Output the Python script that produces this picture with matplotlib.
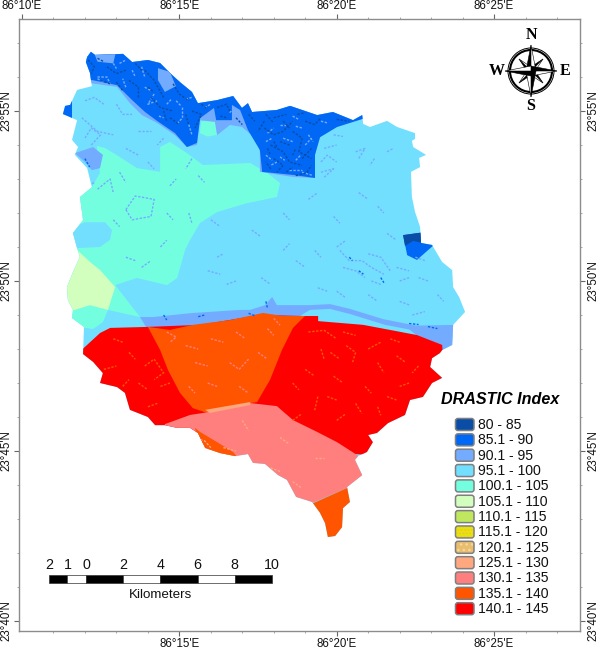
import matplotlib
matplotlib.use('Agg')
import numpy as np
import matplotlib.pyplot as plt
from matplotlib.patches import Polygon, FancyBboxPatch, Rectangle, Circle
from matplotlib.collections import LineCollection
from matplotlib.ticker import MultipleLocator, FixedLocator, FuncFormatter

plt.rcParams['font.family'] = ['Liberation Sans', 'DejaVu Sans']

# all map coordinates: arc minutes east of 86 10'E, arc minutes north of 23 40'N
outline = [(2.07,16.59),(2.19,16.74),(2.32,16.65),(3.21,16.68),(3.50,16.44),(4.00,16.50),(4.39,16.41),
    (4.70,16.12),(5.02,15.85),(5.40,15.56),(5.59,15.23),(6.20,15.32),(6.71,15.44),(6.99,15.09),(7.18,15.23),
    (7.31,14.97),(8.10,15.03),(8.52,15.15),(9.38,14.88),(9.88,14.97),(10.52,14.73),(10.81,14.88),(10.84,14.62),
    (11.06,14.53),(11.60,14.71),(11.92,14.53),(12.49,14.35),(12.49,14.18),(12.39,14.12),(12.43,13.94),
    (12.84,13.71),(12.62,13.62),(12.65,13.35),(12.36,13.21),(12.39,12.47),(12.49,12.03),(12.65,11.59),
    (12.68,11.12),(13.03,11.06),(13.35,10.56),(13.67,10.32),(13.70,9.82),(13.89,9.53),(14.08,9.09),(13.70,8.71),
    (13.67,8.12),(13.35,7.97),(13.28,7.88),(13.03,7.73),(12.97,7.47),(13.35,7.15),(13.03,7.00),(12.74,6.59),
    (12.33,6.50),(12.17,6.06),(11.63,5.82),(11.28,5.53),(11.00,5.47),(11.15,5.26),(10.96,4.97),(10.68,4.85),
    (10.58,4.74),(10.81,4.29),(10.33,3.94),(10.42,3.50),(10.20,3.32),(10.17,2.76),(9.95,2.50),(9.72,2.47),
    (9.63,2.88),(9.47,3.18),(9.22,3.50),(8.71,3.65),(8.42,4.15),(8.14,4.29),(7.72,4.62),(7.34,4.65),(7.18,4.91),
    (6.77,4.85),(6.29,4.94),(5.82,5.09),(5.59,5.53),(5.34,5.68),(4.93,5.68),(4.54,5.76),(4.23,5.76),(4.00,6.00),
    (3.43,6.21),(3.27,6.71),(3.02,6.88),(2.48,7.00),(2.57,7.29),(2.26,7.62),(1.94,7.85),(1.97,8.65),(1.59,8.91),
    (1.62,9.15),(1.46,9.44),(1.43,9.82),(1.62,10.26),(1.84,10.71),(1.75,10.97),(1.62,11.41),(1.94,11.79),
    (1.84,12.47),(2.22,12.76),(2.07,13.32),(1.68,13.71),(1.78,13.94),(1.59,14.15),(1.75,14.73),(1.53,14.82),
    (1.30,14.91),(1.37,15.15),(1.53,15.18),(1.75,15.62),(2.22,15.73),(2.16,16.12),(2.03,16.44)]

zone_100_105 = [(2.38,13.97),(2.64,13.91),(3.05,13.68),(3.65,13.32),(4.39,13.21),(4.39,13.94),(4.70,14.09),
    (5.24,13.76),(5.75,13.41),(7.25,13.47),(7.79,13.18),(8.20,12.88),(8.10,12.47),(7.15,12.29),(6.20,12.03),
    (5.66,11.71),(5.34,11.21),(5.18,10.91),(4.93,10.09),(4.61,9.88),(3.65,10.09),(2.96,9.88),(3.75,8.94),
    (2.73,9.15),(2.57,8.79),(2.26,8.59),(1.53,8.68),(1.21,8.85),(1.21,12.38),(1.84,12.68),(2.22,12.76),(2.48,13.18)]
zone_100_105_notch = [(5.70,14.70),(6.15,14.70),(6.20,14.30),(5.90,14.25),(5.65,14.35)]
zone_95_100_west = [(1.21,11.41),(2.00,11.73),(2.64,11.73),(2.86,11.50),(2.80,11.21),(2.48,11.00),(1.84,10.97),(1.21,10.97)]
zone_105_110 = [(1.21,11.06),(1.75,10.91),(2.16,10.56),(2.48,10.32),(2.96,9.82),(2.86,9.53),(2.73,9.15),(2.16,9.29),
    (1.68,9.15),(1.21,9.15)]
zone_90_95_band = [(3.75,8.94),(4.16,8.94),(5.43,9.06),(6.93,9.15),(7.25,9.15),(7.72,9.29),(7.95,9.53),(8.10,9.29),
    (9.15,9.29),(9.79,9.32),(10.42,9.18),(11.47,8.88),(12.55,8.68),(13.44,8.62),(13.44,8.53),(12.55,8.53),
    (11.54,8.71),(10.42,9.03),(9.79,9.18),(9.15,9.15),(8.83,8.97),(7.56,8.91),(5.66,8.56),(4.00,8.56)]
zone_90_95_east = [(12.17,8.68),(13.76,8.71),(13.76,8.03),(13.28,7.91),(12.65,8.32)]
zone_90_95_west = [(1.68,13.76),(2.26,13.94),(2.57,13.71),(2.48,13.32),(2.22,13.26),(2.00,13.50)]
zone_90_95_north = [(2.03,15.79),(2.16,15.82),(3.02,15.71),(3.43,15.23),(3.81,14.88),(4.29,14.65),(4.86,14.29),
    (5.24,13.94),(5.56,14.00),(5.66,14.73),(6.13,14.68),(6.20,14.29),(6.61,14.59),(6.99,14.53),(7.47,14.15),
    (7.56,13.79),(7.56,13.21),(8.61,13.06),(9.31,13.03),(9.31,13.71),(9.47,14.23),(10.01,14.53),(10.90,14.79),
    (10.90,16.79),(1.84,16.79)]
zone_85_90_north = [(1.84,16.79),(10.90,16.79),(10.90,14.79),(10.01,14.53),(9.47,14.23),(9.31,13.71),(9.31,13.03),
    (8.61,13.12),(7.63,13.21),(7.56,13.85),(7.18,14.44),(6.93,15.03),(6.67,15.18),(6.67,14.73),(6.17,14.73),
    (6.10,15.09),(5.66,14.79),(5.56,14.06),(5.24,13.94),(4.86,14.35),(4.29,14.71),(3.91,14.97),(3.50,15.32),
    (3.02,15.76),(2.22,15.91),(1.84,15.79)]
zone_90_95_ridge = [(4.32,16.26),(4.70,16.15),(4.89,15.73),(4.54,15.56),(4.32,15.91)]
zone_90_95_top = [(2.25,16.8),(3.0,16.8),(2.9,16.4),(2.4,16.45)]
zone_85_90_east = [(12.11,11.35),(12.81,11.44),(13.09,11.06),(12.55,10.62),(12.24,10.76)]
zone_80_85_east = [(12.11,11.35),(12.81,11.44),(12.71,11.12),(12.43,11.18),(12.17,11.03)]
zone_85_90_west = [(1.2,15.3),(1.6,15.3),(1.6,14.75),(1.2,14.75)]
zone_140_145 = [(1.68,7.79),(2.48,8.47),(2.80,8.62),(4.00,8.65),(5.66,8.71),(7.56,9.00),(8.99,8.97),(9.41,8.97),
    (9.41,8.82),(10.84,8.71),(11.70,8.56),(12.55,8.41),(13.35,8.12),(13.44,7.09),(13.28,4.74),(4.07,5.32),(1.68,5.32)]
zone_135_140 = [(4.00,8.65),(4.70,8.56),(5.43,8.71),(6.61,8.85),(7.66,9.06),(8.29,8.97),(8.99,8.97),(8.61,8.62),
    (8.26,7.97),(7.88,7.09),(7.47,6.44),(7.25,6.41),(5.88,6.12),(5.43,6.26),(5.02,6.71),(4.64,7.38),(4.39,7.97)]
zone_130_135 = [(4.54,5.79),(5.34,6.06),(5.97,6.15),(7.25,6.41),(8.10,6.32),(8.61,5.91),(9.38,5.56),(10.01,5.26),
    (10.65,4.88),(11.06,4.44),(10.33,3.91),(9.22,3.47),(8.71,3.12),(7.25,3.85),(5.34,5.18),(4.54,5.56)]
zone_125_130 = [(5.82,6.21),(7.25,6.44),(7.25,6.35),(5.97,6.12)]
zone_135_140_tip = [(9.22,3.45),(10.50,3.98),(10.60,2.15),(9.09,2.15)]
zone_135_140_sw = [(5.50,5.68),(5.66,5.56),(6.20,5.26),(6.71,4.97),(6.86,4.79),(5.66,4.79)]

specks_80_85 = [[(2.1,16.5),(2.3,16.3),(2.2,16.1)],[(2.7,16.3),(3.0,16.1),(3.3,16.2)],[(2.5,15.9),(2.8,15.8)],
    [(3.4,15.9),(3.7,15.7),(3.7,15.4)],[(3.9,16.2),(4.2,15.9),(4.5,15.4)],[(4.1,15.4),(4.4,15.1),(4.8,15.0)],
    [(4.8,15.8),(5.0,15.5),(5.3,15.3)],[(4.7,14.8),(5.0,14.6)],[(5.4,15.0),(5.7,14.9),(5.5,14.5)],
    [(6.2,15.1),(6.5,15.2),(6.6,15.0)],[(6.8,14.8),(7.0,14.6)],[(7.7,14.5),(8.0,14.3),(8.3,14.4),(8.6,14.7)],
    [(7.9,14.0),(8.3,13.8),(8.5,13.5),(8.9,13.4)],[(8.6,14.4),(8.9,14.2),(8.8,13.8),(9.2,13.6)],
    [(8.0,13.6),(8.3,13.4),(8.1,13.2)],[(9.0,14.7),(9.3,14.6),(9.5,14.8)],[(10.0,14.75),(10.4,14.7)],
    [(8.0,14.8),(8.4,14.9)],[(7.8,13.9),(7.9,13.7)],[(8.7,13.1),(9.1,13.2)],[(7.7,14.7),(7.5,14.4)],
    [(8.2,14.1),(8.5,14.0)],[(8.9,13.6),(9.2,13.9)],[(7.9,13.3),(7.75,13.5)],
    [(2.4,16.55),(2.6,16.45)],[(3.0,15.85),(3.2,15.6)],[(3.6,16.4),(3.8,16.2)],[(4.0,15.7),(4.2,15.55)],[(4.5,15.0),(4.6,14.7)],
    [(5.2,14.9),(5.3,14.6)],[(5.7,15.2),(5.9,15.05)],[(6.3,14.85),(6.5,14.8)],[(7.2,14.9),(7.4,14.7)],[(7.75,14.9),(8.0,14.65)],
    [(8.3,14.7),(8.5,14.5)],[(8.75,14.9),(9.0,14.95)],[(8.1,13.95),(8.0,14.1)],[(8.6,13.7),(8.7,13.9)],[(8.4,13.2),(8.6,13.35)],
    [(9.05,13.2),(9.2,13.4)]]
specks_90_95 = [[(2.4,16.0),(2.7,16.0),(2.8,15.8)],[(3.1,16.4),(3.3,16.5)],[(3.3,15.7),(3.2,15.95)],[(3.8,16.3),(3.9,16.0)],
    [(4.2,15.5),(4.0,15.2),(4.3,15.3)],[(5.1,15.1),(5.1,14.8),(4.9,14.6)],[(5.3,14.6),(5.4,14.3)],[(5.8,15.1),(6.0,15.2)],
    [(7.75,14.1),(7.95,14.2)],[(8.3,14.2),(8.6,14.1)],[(8.1,13.5),(7.9,13.4)],[(8.5,13.25),(8.9,13.25)],[(9.1,14.3),(9.25,14.1)],
    [(8.9,13.2),(9.25,13.1)],[(9.6,13.9),(10.0,14.0)],[(9.5,13.5),(9.7,13.7),(10.0,13.5)],[(9.5,13.2),(9.9,13.3),(9.6,13.05)],
    [(9.9,14.3),(10.2,14.25)],[(10.6,13.8),(10.9,13.9),(10.7,13.6)],[(11.6,13.8),(11.8,13.9)],[(11.2,13.6),(11.05,13.4)],
    [(2.0,15.3),(2.3,15.4),(2.6,15.2)],[(1.9,14.8),(2.4,14.4),(2.9,14.3)],[(3.0,15.2),(3.2,14.9),(3.5,14.9)],
    [(2.2,14.0),(2.5,14.3),(2.2,14.5),(2.0,14.2)],[(3.7,14.4),(4.1,14.4)],[(4.5,14.2),(4.3,14.0)],[(3.3,13.9),(3.7,13.7)],
    [(4.0,13.5),(4.2,13.3)],[(5.4,13.6),(5.2,13.3)],[(2.4,12.7),(2.8,13.0),(2.9,12.6)],[(1.9,12.7),(2.3,12.9)],
    [(3.3,12.1),(3.6,12.5),(4.2,12.4),(4.1,11.9),(3.5,11.8),(3.3,12.1)],[(4.7,12.8),(4.9,13.0)],[(5.6,13.1),(5.8,12.9)],
    [(3.1,13.2),(3.3,12.9)],[(10.1,10.9),(10.4,10.6),(10.8,10.6),(11.1,10.4),(11.5,10.2)],[(10.2,10.4),(10.6,10.3),(10.9,10.1)],
    [(11.0,10.8),(11.4,10.7),(11.7,10.3)],[(11.1,10.0),(11.4,9.9)],[(11.9,10.4),(12.3,10.3)],[(12.0,10.0),(12.3,10.1)],
    [(12.6,10.1),(12.9,10.0)],[(12.5,10.7),(12.8,10.6)],[(5.3,12.0),(5.4,11.7)],[(6.0,11.8),(6.3,11.6)],[(7.3,11.5),(7.6,11.3)],
    [(8.3,12.0),(8.5,11.8)],[(9.1,12.4),(9.4,12.6)],[(9.9,11.9),(10.1,11.7)],[(10.7,12.6),(11.0,12.4)],[(11.3,12.2),(11.5,12.0)],
    [(10.0,11.0),(10.3,11.2)],[(11.6,11.4),(11.9,11.2)],[(8.7,10.6),(9.0,10.4)],[(9.3,10.9),(9.5,10.7)],[(7.6,10.1),(7.9,9.9)],
    [(5.9,10.3),(6.3,10.2)],[(6.5,9.9),(6.8,10.0)],[(8.3,10.9),(8.5,11.1)],[(9.4,9.8),(9.7,9.7)],[(6.2,10.7),(6.4,10.8)],
    [(12.4,9.0),(12.8,9.1)],[(13.2,9.6),(13.4,9.4)],[(12.0,9.4),(12.3,9.3)],[(11.0,9.6),(11.3,9.4)],[(10.0,9.7),(10.3,9.5)],
    [(4.4,11.0),(4.6,11.2)],[(3.3,10.7),(3.6,10.6)],[(2.9,11.8),(3.1,11.6)],[(4.6,12.0),(4.8,11.8)],[(3.8,10.4),(4.1,10.6)],
    [(2.4,15.95),(2.6,15.85)],[(2.9,16.4),(3.0,16.25)],[(3.5,16.2),(3.6,16.0)],[(3.9,15.7),(4.1,15.6)],[(4.6,15.2),(4.75,15.35)],
    [(4.9,15.3),(5.05,15.15)],[(4.35,14.85),(4.5,14.8)],[(5.2,15.35),(5.4,15.4)],[(6.6,14.95),(6.75,15.1)],[(7.8,14.35),(8.0,14.5)],
    [(8.2,14.6),(8.4,14.6)],[(8.7,14.55),(8.9,14.5)],[(9.0,14.0),(9.2,14.2)],[(8.2,13.65),(8.35,13.55)],[(8.7,13.55),(8.85,13.7)],
    [(7.75,13.7),(7.95,13.55)],[(8.6,14.85),(8.8,14.75)],[(9.5,14.7),(9.7,14.65)]]
specks_85_90 = [[(2.0,13.6),(2.15,13.35)],[(12.3,8.75),(12.6,8.72)],[(12.9,8.66),(13.2,8.6)],[(4.5,9.0),(4.6,8.85)],
    [(5.6,8.95),(5.8,9.0)],[(7.2,9.05),(7.4,8.98)],[(7.75,9.4),(7.8,9.2)],[(10.7,10.3),(10.85,10.2)],[(11.4,10.1),(11.5,9.95)],
    [(10.4,10.7),(10.5,10.6)]]
specks_135_140 = [[(9.1,8.5),(9.6,8.55),(10.0,8.3)],[(10.3,8.1),(10.6,7.9),(10.5,7.6)],[(11.0,8.0),(11.4,8.2)],[(9.8,7.9),(10.1,7.7)],
    [(11.3,7.6),(11.5,7.3)],[(11.9,7.8),(12.2,7.6)],[(10.9,6.9),(11.1,6.7)],[(9.4,6.6),(9.3,6.2)],[(9.0,7.4),(9.3,7.2)],
    [(12.0,6.9),(12.3,7.0)],[(10.0,5.9),(10.3,6.1)],[(11.3,6.3),(11.4,6.05)],[(8.6,5.9),(8.9,6.1)],[(12.6,7.5),(12.4,7.3)],
    [(2.6,7.4),(3.0,7.5)],[(3.4,7.9),(3.6,7.7)],[(3.9,7.5),(4.2,7.7),(4.5,7.3),(4.2,7.1)],[(3.7,7.0),(4.0,6.8)],[(4.4,6.9),(4.7,7.0)],
    [(2.9,8.3),(3.2,8.2)],[(3.2,6.9),(3.4,7.1)],[(4.0,6.3),(4.3,6.4)],[(10.2,8.5),(10.6,8.4)],[(11.7,8.3),(12.0,8.2)],[(9.5,8.0),(9.6,7.7)],
    [(8.6,7.0),(8.8,6.8)],[(9.9,7.2),(10.2,7.0)],[(11.6,6.6),(11.9,6.5)],[(10.6,6.4),(10.8,6.1)],[(9.7,6.6),(10.0,6.5)]]
specks_130_135 = [[(4.6,8.5),(4.9,8.35),(4.7,8.2)],[(5.2,8.1),(5.6,8.0)],[(6.0,8.3),(6.4,8.2)],[(6.8,8.5),(7.1,8.3)],[(7.8,8.6),(8.0,8.4)],
    [(5.5,7.6),(5.9,7.5)],[(6.6,7.6),(6.9,7.4),(7.2,7.7)],[(7.5,7.9),(7.8,7.7)],[(5.9,7.0),(6.2,6.9)],[(6.9,6.9),(7.2,6.7)],
    [(5.3,6.9),(5.5,6.7)],[(8.0,8.9),(8.2,8.7)]]
specks_125_130 = [[(5.3,5.4),(5.8,5.3),(6.0,5.1)],[(6.4,5.1),(6.8,5.0)],[(7.0,5.9),(7.2,5.6)],[(8.2,5.4),(8.5,5.2)],[(8.6,4.1),(8.9,3.9)],
    [(7.9,4.5),(8.2,4.4)],[(9.3,4.8),(9.6,4.8)]]

legend_labels = ['80 - 85', '85.1 - 90', '90.1 - 95', '95.1 - 100', '100.1 - 105', '105.1 - 110', '110.1 - 115',
                 '115.1 - 120', '120.1 - 125', '125.1 - 130', '130.1 - 135', '135.1 - 140', '140.1 - 145']
legend_colors = ['#0A4DA6', '#0068F5', '#73ABFF', '#73DFFF', '#73FFDF', '#D3FFBE', '#BFE85F',
                 '#E6E600', '#E8BE6E', '#FFA77F', '#FF7F7F', '#FF5500', '#FF0000']
scale_km = [-2, -1, 0, 2, 4, 6, 8, 10]
x_major = [0, 5, 10, 15]
y_major = [0, 5, 10, 15]

c = dict(zip(['a80', 'a85', 'a90', 'a95', 'a100', 'a105', 'a110', 'a115', 'a120', 'a125', 'a130', 'a135', 'a140'], legend_colors))

fig = plt.figure(figsize=(6.0, 6.51), dpi=100)
ax = fig.add_axes([19 / 600, 20 / 651, 561 / 600, 612 / 651])
ax.set_xlim(-3 / 31.47, 558 / 31.47)
ax.set_ylim(-10 / 34, 602 / 34)

# study area first, every zone is clipped to it
area = Polygon(outline, closed=True, facecolor=c['a95'], edgecolor='none')
ax.add_patch(area)

zones = [(zone_100_105, 'a100'), (zone_100_105_notch, 'a100'), (zone_95_100_west, 'a95'), (zone_105_110, 'a105'),
         (zone_90_95_band, 'a90'), (zone_90_95_east, 'a90'), (zone_90_95_west, 'a90'),
         (zone_140_145, 'a140'), (zone_135_140, 'a135'), (zone_130_135, 'a130'), (zone_125_130, 'a125'),
         (zone_135_140_tip, 'a135'), (zone_135_140_sw, 'a135'),
         (zone_90_95_north, 'a90'), (zone_85_90_north, 'a85'), (zone_90_95_ridge, 'a90'), (zone_90_95_top, 'a90'),
         (zone_85_90_east, 'a85'), (zone_80_85_east, 'a80'), (zone_85_90_west, 'a85')]
for pts, key in zones:
    p = Polygon(pts, closed=True, facecolor=c[key], edgecolor='none')
    ax.add_patch(p)
    p.set_clip_path(area)

for runs, key in [(specks_90_95, 'a90'), (specks_80_85, 'a80'), (specks_85_90, 'a85'), (specks_135_140, 'a135'),
                  (specks_130_135, 'a130'), (specks_125_130, 'a125')]:
    lc = LineCollection(runs, colors=c[key], linewidths=1.0, linestyles=[(0, (1.7, 1.1))], zorder=3)
    ax.add_collection(lc)
    lc.set_clip_path(area)

ax.xaxis.set_major_locator(FixedLocator(x_major))
ax.yaxis.set_major_locator(FixedLocator(y_major))
ax.xaxis.set_minor_locator(MultipleLocator(1))
ax.yaxis.set_minor_locator(MultipleLocator(1))
ax.xaxis.set_major_formatter(FuncFormatter(lambda v, pos: "86°%d'E" % (10 + v)))
ax.yaxis.set_major_formatter(FuncFormatter(lambda v, pos: "23°%d'N" % (40 + v)))
ax.tick_params(which='major', top=True, right=True, labeltop=True, labelright=True, direction='out',
               length=3.5, width=0.8, color='#666666', labelsize=8.3, pad=1.5, labelcolor='#111111')
ax.tick_params(which='minor', top=True, right=True, direction='out', length=1.5, width=0.6, color='#999999')
for t in ax.get_yticklabels():
    t.set_rotation(90)
    t.set_va('center')
# the bottom edge starts labelling at 86 15'E
ax.xaxis.get_major_ticks()[0].label1.set_visible(False)
ax.xaxis.get_major_ticks()[0].tick1line.set_visible(False)
for s in ax.spines.values():
    s.set_color('#8C8C8C')
    s.set_linewidth(1.0)

# legend, scale bar and north arrow sit on the sheet, in pixel units
sheet = fig.add_axes([0, 0, 1, 1], facecolor='none')
sheet.set_xlim(0, 600)
sheet.set_ylim(651, 0)
sheet.axis('off')

sheet.text(500, 400, 'DRASTIC Index', fontsize=11.6, fontweight='bold', style='italic', ha='center', va='center')
for i, (lab, col) in enumerate(zip(legend_labels, legend_colors)):
    yc = 424.5 + i * 15.35
    box = FancyBboxPatch((455.5, yc - 6), 18.5, 12, boxstyle='round,pad=0,rounding_size=2.5', mutation_aspect=1,
                         facecolor=col, edgecolor='#7F7F7F', linewidth=1.1)
    sheet.add_patch(box)
    if lab == '115.1 - 120':
        sheet.add_patch(Rectangle((457, yc - 5), 15.5, 10, facecolor='none', edgecolor='#F2C14E', hatch='.....', linewidth=0))
    if lab == '120.1 - 125':
        sheet.add_patch(Rectangle((457, yc - 5), 15.5, 10, facecolor='none', edgecolor='#F4D99A', hatch='...', linewidth=0))
    sheet.text(478, yc + 0.3, lab, fontsize=10.1, ha='left', va='center', color='#111111')

km_x = 86 + 18.6 * np.array(scale_km)
for i in range(len(scale_km) - 1):
    sheet.add_patch(Rectangle((km_x[i], 575), km_x[i + 1] - km_x[i], 8, edgecolor='#333333', linewidth=0.5,
                              facecolor='black' if i % 2 == 0 else 'white'))
for xp, km in zip(km_x, scale_km):
    sheet.text(xp, 565, str(abs(km)), fontsize=10.3, ha='center', va='center', color='#111111')
sheet.text(160, 594.5, 'Kilometers', fontsize=9.6, ha='center', va='center', color='#111111')

# north arrow
cx, cy = 531, 71
sheet.add_patch(Circle((cx, cy), 23, facecolor='white', edgecolor='black', linewidth=0.7))
sheet.add_patch(Circle((cx, cy), 21, facecolor='none', edgecolor='black', linewidth=1.5))
for deg, r, w in [(45, 17, 3.5), (135, 17, 3.5), (225, 17, 3.5), (315, 17, 3.5),
                  (0, 26, 5), (90, 26, 5), (180, 26, 5), (270, 26, 5)]:
    a = np.radians(deg)
    tip = (cx + r * np.sin(a), cy - r * np.cos(a))
    left = (cx + w * np.sin(a - np.pi / 2), cy - w * np.cos(a - np.pi / 2))
    right = (cx + w * np.sin(a + np.pi / 2), cy - w * np.cos(a + np.pi / 2))
    sheet.add_patch(Polygon([(cx, cy), tip, left], closed=True, facecolor='black', edgecolor='black', linewidth=0.4))
    sheet.add_patch(Polygon([(cx, cy), tip, right], closed=True, facecolor='white', edgecolor='black', linewidth=0.4))
for lab, xp, yp in [('N', 531, 35), ('S', 531, 106), ('W', 497, 71), ('E', 565, 71)]:
    sheet.text(xp, yp, lab, fontsize=11.5, fontweight='bold', family='Liberation Serif', ha='center', va='center')

fig.savefig('out.png', dpi=100)
